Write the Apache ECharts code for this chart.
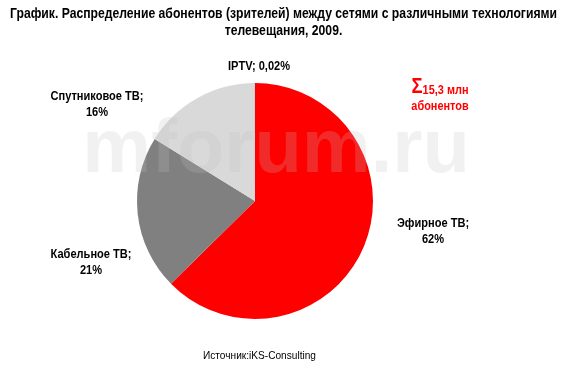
<!DOCTYPE html>
<html><head><meta charset="utf-8">
<script src="https://cdn.jsdelivr.net/npm/echarts@6/dist/echarts.min.js"></script>
<style>html,body{margin:0;padding:0;background:#fff}#c{width:567px;height:375px}</style>
</head><body><div id="c"></div>
<script>
const categories = ['Эфирное ТВ', 'Кабельное ТВ', 'Спутниковое ТВ', 'IPTV'];
const values = [62, 21, 16, 0.02];
const percentLabels = ['62%', '21%', '16%', '0,02%'];
const colors = ['#FF0000', '#808080', '#D9D9D9', '#4F81BD'];
const titleLines = ['График. Распределение абонентов (зрителей) между сетями с различными технологиями', 'телевещания, 2009.'];
const totalText = ['Σ', '15,3 млн', 'абонентов'];
const sourceText = 'Источник:iKS-Consulting';

const FONT = '"Liberation Sans", Arial, sans-serif';
const ctx = document.createElement('canvas').getContext('2d');
function measure(text, font) { ctx.font = font; return ctx.measureText(text).width; }

const titleFont = 'bold 14px ' + FONT;
const titleScale = 547 / measure(titleLines[0], titleFont);
const labelFont = 'bold 13px ' + FONT;
const labelScale = 93 / measure('Спутниковое ТВ;', labelFont);
const sourceFont = '11px ' + FONT;
const sourceScale = 113 / measure(sourceText, sourceFont);

const labelAnchors = [[433, 231], [91, 262], [97, 104], [259, 66]];

const labelGraphics = categories.map((c, i) => ({
  type: 'text', x: labelAnchors[i][0], y: labelAnchors[i][1], scaleX: labelScale, z: 20,
  style: {
    text: i === 3 ? c + '; ' + percentLabels[i] : c + ';\n' + percentLabels[i],
    font: labelFont, fill: '#000', align: 'center', verticalAlign: 'middle', lineHeight: 16
  }
}));

const chart = echarts.init(document.getElementById('c'));
chart.setOption({
  backgroundColor: '#fff',
  animation: false,
  graphic: [
    { type: 'text', x: 283.5, y: 6, scaleX: titleScale,
      style: { text: titleLines.join('\n'), font: titleFont, fill: '#000', align: 'center', verticalAlign: 'top', lineHeight: 17 } },
    { type: 'text', x: 276, y: 151, scaleX: 1.02, z: 100, silent: true,
      style: { text: 'mforum.ru', font: 'bold 76px ' + FONT, fill: 'rgba(190,190,190,0.22)', align: 'center', verticalAlign: 'middle' } },
    { type: 'text', x: 440, y: 95, z: 10, scaleX: 0.84,
      style: { text: '{s|' + totalText[0] + '}{a|' + totalText[1] + '}\n{b|' + totalText[2] + '}',
        align: 'center', verticalAlign: 'middle', fill: '#FF0000',
        rich: { s: { fontSize: 22, fontWeight: 'bold', fill: '#FF0000', fontFamily: FONT, verticalAlign: 'bottom' },
                a: { fontSize: 13, fontWeight: 'bold', fill: '#FF0000', fontFamily: FONT, verticalAlign: 'bottom', padding: [0,0,1,0] },
                b: { fontSize: 13, fontWeight: 'bold', fill: '#FF0000', fontFamily: FONT, lineHeight: 17 } } } },
    { type: 'text', x: 259.5, y: 356, scaleX: sourceScale,
      style: { text: sourceText, align: 'center', verticalAlign: 'middle', font: sourceFont, fill: '#000' } }
  ].concat(labelGraphics),
  series: [{
    type: 'pie',
    center: [255, 201],
    radius: 118,
    startAngle: 90,
    clockwise: true,
    data: categories.map((c, i) => ({ name: c, value: values[i], itemStyle: { color: colors[i] } })),
    label: { show: false },
    labelLine: { show: false },
    emphasis: { disabled: true }
  }]
});
</script></body></html>
